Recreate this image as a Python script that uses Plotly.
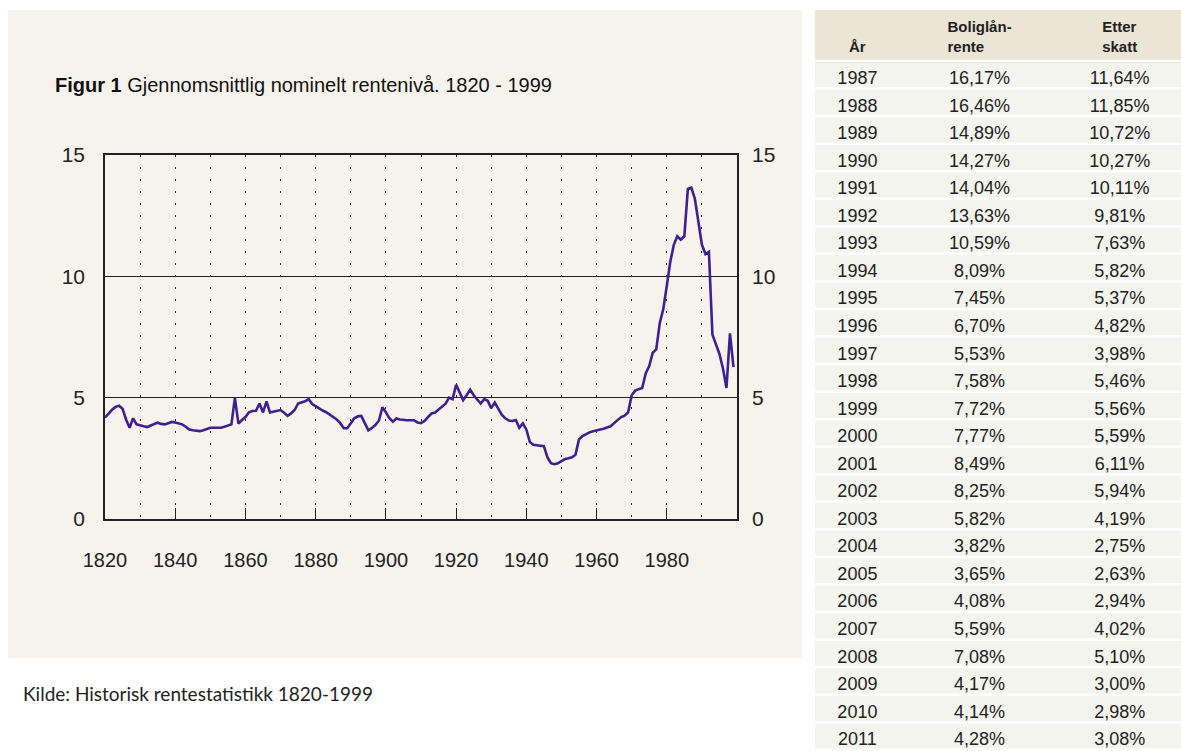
import plotly.graph_objects as go

years = list(range(1820, 2000))
rate = [
    4.18, 4.35, 4.50, 4.62, 4.67, 4.54, 4.10, 3.76, 4.15, 3.90,  # 1820-1829
    3.85, 3.82, 3.79, 3.85, 3.92, 3.97, 3.92, 3.90, 3.95, 4.00,  # 1830-1839
    3.98, 3.95, 3.90, 3.80, 3.69, 3.66, 3.64, 3.62, 3.66, 3.72,  # 1840-1849
    3.76, 3.76, 3.76, 3.76, 3.80, 3.85, 3.90, 4.99, 3.93, 4.08,  # 1850-1859
    4.20, 4.40, 4.45, 4.46, 4.76, 4.39, 4.85, 4.39, 4.42, 4.45,  # 1860-1869
    4.49, 4.38, 4.25, 4.35, 4.49, 4.76, 4.80, 4.85, 4.94, 4.74,  # 1870-1879
    4.65, 4.55, 4.47, 4.40, 4.30, 4.20, 4.10, 3.95, 3.74, 3.74,  # 1880-1889
    3.95, 4.15, 4.23, 4.25, 3.95, 3.65, 3.75, 3.87, 4.05, 4.60,  # 1890-1899
    4.40, 4.15, 4.01, 4.14, 4.10, 4.07, 4.07, 4.07, 4.07, 3.98,  # 1900-1909
    3.95, 4.04, 4.18, 4.35, 4.39, 4.50, 4.63, 4.75, 5.00, 4.94,  # 1910-1919
    5.53, 5.20, 4.90, 5.10, 5.33, 5.10, 4.95, 4.76, 4.94, 4.87,  # 1920-1929
    4.57, 4.80, 4.55, 4.30, 4.15, 4.06, 4.04, 4.08, 3.76, 3.94,  # 1930-1939
    3.69, 3.17, 3.06, 3.03, 3.02, 3.00, 2.55, 2.30, 2.26, 2.30,  # 1940-1949
    2.38, 2.47, 2.50, 2.54, 2.65, 3.28, 3.42, 3.50, 3.57, 3.62,  # 1950-1959
    3.65, 3.69, 3.72, 3.77, 3.82, 3.95, 4.07, 4.20, 4.26, 4.40,  # 1960-1969
    5.10, 5.29, 5.35, 5.40, 6.00, 6.30, 6.85, 6.99, 8.07, 8.65,  # 1970-1979
    9.60, 10.60, 11.30, 11.65, 11.51, 11.65, 13.60, 13.65, 13.20, 12.30,  # 1980-1989
    11.30, 10.92, 11.01, 7.60, 7.20, 6.80, 6.20, 5.40, 7.65, 6.26,  # 1990-1999
]

x_ticks = [1820, 1840, 1860, 1880, 1900, 1920, 1940, 1960, 1980]
y_ticks = [0, 5, 10, 15]

tab_year = [str(y) for y in range(1987, 2012)]
tab_loan = ["16,17%", "16,46%", "14,89%", "14,27%", "14,04%", "13,63%", "10,59%",
            "8,09%", "7,45%", "6,70%", "5,53%", "7,58%", "7,72%", "7,77%", "8,49%",
            "8,25%", "5,82%", "3,82%", "3,65%", "4,08%", "5,59%", "7,08%", "4,17%",
            "4,14%", "4,28%"]
tab_after = ["11,64%", "11,85%", "10,72%", "10,27%", "10,11%", "9,81%", "7,63%",
             "5,82%", "5,37%", "4,82%", "3,98%", "5,46%", "5,56%", "5,59%", "6,11%",
             "5,94%", "4,19%", "2,75%", "2,63%", "2,94%", "4,02%", "5,10%", "3,00%",
             "2,98%", "3,08%"]
tab_header = [["\u00a0", "År"], ["Boliglån-", "rente"], ["Etter", "skatt"]]

W, H = 1181, 751
FONT = "Liberation Sans, Arial"
LINE_COL = "#40208f"
DARK = "#222222"
PANEL = "#f6f3ed"
HEAD_FILL = "#ece4d4"
CELL_FILL = "#f4f4ee"

HEAD_H = 51
CELL_H = 27.55
TAB_TOP = 10  # px from top

fig = go.Figure()

fig.add_trace(go.Scatter(
    x=years, y=rate, mode="lines",
    line=dict(color=LINE_COL, width=2.6),
    showlegend=False, hoverinfo="x+y",
))
# invisible copy to carry the right-hand axis labels
fig.add_trace(go.Scatter(
    x=years, y=rate, mode="lines", yaxis="y2",
    line=dict(color="rgba(0,0,0,0)", width=0),
    showlegend=False, hoverinfo="skip",
))

fig.add_trace(go.Table(
    domain=dict(x=[815 / W, 1.0], y=[0.0, 1 - TAB_TOP / H]),
    columnwidth=[85, 160, 121],
    header=dict(
        values=["<br>".join(f"<b>{t}</b>" for t in h) for h in tab_header],
        fill_color=HEAD_FILL,
        line=dict(color=HEAD_FILL, width=1),
        align="center",
        font=dict(family=FONT, size=15, color="#222222"),
        height=HEAD_H,
    ),
    cells=dict(
        values=[tab_year, tab_loan, tab_after],
        fill_color=CELL_FILL,
        line=dict(color=CELL_FILL, width=1),
        align="center",
        font=dict(family=FONT, size=18, color="#222222"),
        height=CELL_H,
    ),
))

# white separators between table rows (derived from the table's row heights)
shapes = [
    dict(type="rect", xref="paper", yref="paper",
         x0=8 / W, x1=802 / W, y0=1 - 658 / H, y1=1 - 10 / H,
         fillcolor=PANEL, line=dict(width=0), layer="below"),
]
for i in range(len(tab_year) + 1):
    ypx = TAB_TOP + HEAD_H + i * CELL_H
    if ypx >= H:
        break
    shapes.append(dict(type="line", xref="paper", yref="paper",
                       x0=815 / W, x1=1.0, y0=1 - ypx / H, y1=1 - ypx / H,
                       line=dict(color="white", width=2.5), layer="above"))

x_dom = [105 / W, 737 / W]
y_dom = [1 - 519 / H, 1 - 155 / H]

fig.update_layout(
    width=W, height=H,
    margin=dict(l=0, r=0, t=0, b=0, pad=0),
    paper_bgcolor="white",
    plot_bgcolor=PANEL,
    showlegend=False,
    xaxis=dict(
        domain=x_dom, range=[1820, 2000], automargin=False,
        tickvals=x_ticks, ticktext=[str(v) for v in x_ticks],
        ticks="inside", ticklen=11, tickwidth=1.3, tickcolor=DARK,
        showgrid=True, gridcolor=DARK, gridwidth=1.4, griddash="2px,10px",
        minor=dict(dtick=10, tick0=1820, showgrid=True, gridcolor=DARK,
                   gridwidth=1.4, griddash="2px,10px", ticks=""),
        showline=True, linecolor=DARK, linewidth=1.5, mirror=True,
        zeroline=False,
        tickfont=dict(family=FONT, size=20, color="#222222"),
        ticklabelstandoff=22,
    ),
    yaxis=dict(
        domain=y_dom, range=[0, 15], automargin=False,
        tickvals=y_ticks, ticktext=[str(v) for v in y_ticks],
        ticks="", showgrid=True, gridcolor=DARK, gridwidth=1.2,
        showline=True, linecolor=DARK, linewidth=1.5, mirror=True,
        zeroline=False,
        tickfont=dict(family=FONT, size=21, color="#222222"),
        ticklabelstandoff=14,
    ),
    yaxis2=dict(
        domain=y_dom, range=[0, 15], overlaying="y", side="right", automargin=False,
        tickvals=y_ticks, ticktext=[str(v) for v in y_ticks],
        ticks="", showgrid=False, zeroline=False, showline=False,
        tickfont=dict(family=FONT, size=21, color="#222222"),
        ticklabelstandoff=14,
    ),
    shapes=shapes,
    annotations=[
        dict(text="<b>Figur 1</b> Gjennomsnittlig nominelt rentenivå. 1820 - 1999",
             xref="paper", yref="paper", x=53 / W, y=1 - 85 / H,
             xanchor="left", yanchor="middle", showarrow=False,
             font=dict(family=FONT, size=20, color="#111111")),
        dict(text="Kilde: Historisk rentestatistikk 1820-1999",
             xref="paper", yref="paper", x=21 / W, y=1 - 693 / H,
             xanchor="left", yanchor="middle", showarrow=False,
             font=dict(family="Lato, Open Sans, sans-serif", size=19, color="#222222")),
    ],
)

fig.write_html(
    "out.html",
    config={"displayModeBar": False},
    post_script="document.body.style.margin='0px';document.body.style.overflow='hidden';",
)
